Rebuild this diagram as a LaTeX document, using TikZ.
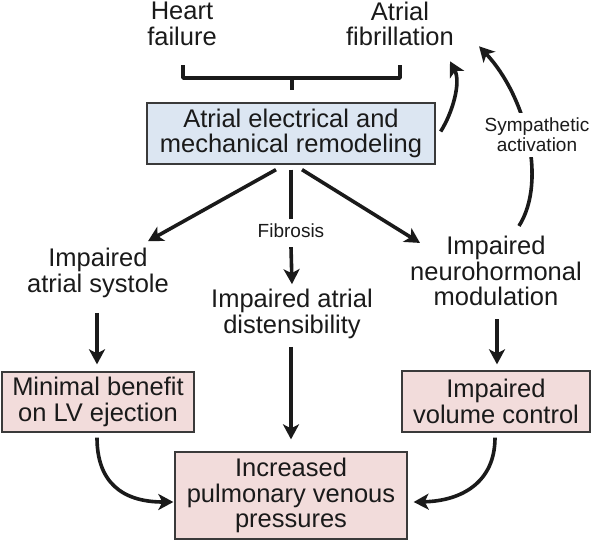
\documentclass[tikz,border=0pt]{standalone}
\usepackage{fontspec}
\setmainfont{Liberation Sans}
\usetikzlibrary{arrows.meta,calc}
\definecolor{ink}{HTML}{1A1A1A}
\definecolor{bluebox}{HTML}{DCE6F2}
\definecolor{pinkbox}{HTML}{F2DCDB}
\definecolor{boxline}{HTML}{3A3A3A}
\begin{document}
\begin{tikzpicture}[x=1pt,y=-1pt,
  bigtext/.style={font=\fontsize{25.5}{25.5}\selectfont, align=center, inner sep=0pt, text=ink},
  smalltext/.style={font=\fontsize{19}{20}\selectfont, align=center, inner sep=0pt, text=ink},
  boxbase/.style={bigtext, draw=boxline, line width=1.3pt},
  bluebx/.style={boxbase, fill=bluebox},
  pinkbx/.style={boxbase, fill=pinkbox},
  conn/.style={draw=ink, line width=3.6pt},
  arr/.style={conn, -{Stealth[length=15pt,width=16pt,inset=4pt]}},
]
\useasboundingbox (0,0) rectangle (592,541);

% nodes
\node[bigtext] (hf) at (182,24) {Heart\\failure};
\node[bigtext] (af) at (400,24) {Atrial\\fibrillation};
\node[bluebx, minimum width=288pt, minimum height=61pt] (remod) at (291,133.5) {Atrial electrical and\\mechanical remodeling};
\node[bigtext] (sys) at (98,273) {Impaired\\atrial systole};
\node[smalltext] (fib) at (291,231) {Fibrosis};
\node[bigtext] (dist) at (292,314) {Impaired atrial\\distensibility};
\node[bigtext] (neuro) at (496,271) {Impaired\\neurohormonal\\modulation};
\node[pinkbx, minimum width=192pt, minimum height=60pt] (lv) at (98,402) {Minimal benefit\\on LV ejection};
\node[pinkbx, minimum width=188pt, minimum height=61pt] (vol) at (496,401.5) {Impaired\\volume control};
\node[pinkbx, minimum width=232pt, minimum height=87pt] (pvp) at (291,495.5) {Increased\\pulmonary venous\\pressures};

% bracket
\coordinate (bl) at (183,65);
\coordinate (br) at (400,65);
\coordinate (bj) at (292,78);
\coordinate (bm) at (292,90);
\draw[conn, line join=round] (bl) |- (bj) -| (br);
\draw[conn] (bj) -- (bm);

% arrows from remodeling
\draw[arr] ($(remod.south)+(-15,5)$) -- ($(sys.north)+(50,-7)$);
\draw[conn] ($(remod.south)+(0,5)$) -- ($(fib.north)+(0,-5)$);
\draw[arr] ($(fib.south)+(0,9)$) -- ($(dist.north)+(0,-5)$);
\draw[arr] ($(remod.south)+(11,5)$) -- ($(neuro.north)+(-76,7)$);

% downward arrows
\draw[arr] ($(sys.south)+(-1,15)$) -- ($(lv.north)+(-1,-7)$);
\draw[arr] ($(dist.south)+(-1,8)$) -- ($(pvp.north)+(0,-12)$);
\draw[arr] ($(neuro.south)+(1,13)$) -- ($(vol.north)+(1,-6)$);

% curved arrows into pressures box
\draw[arr] ($(lv.south)+(-1,5)$) .. controls (97,482) and (122,502) .. ($(pvp.west)+(-1,6.5)$);
\draw[arr] ($(vol.south)+(-1,5)$) .. controls (495,482) and (462,501) .. ($(pvp.east)+(6,6.5)$);

% remodeling to atrial fibrillation
\draw[arr] ($(remod.east)+(5,-2)$) .. controls (453,112) and (461,82) .. ($(af.south)+(50,15)$);

% sympathetic activation loop
\draw[arr] ($(neuro.north)+(23,-10)$) .. controls (548,180) and (525,95) .. ($(af.south east)+(25,0)$);
\node[smalltext, fill=white, inner xsep=2pt, inner ysep=5pt] (symp) at (537,135) {Sympathetic\\activation};
\end{tikzpicture}
\end{document}
